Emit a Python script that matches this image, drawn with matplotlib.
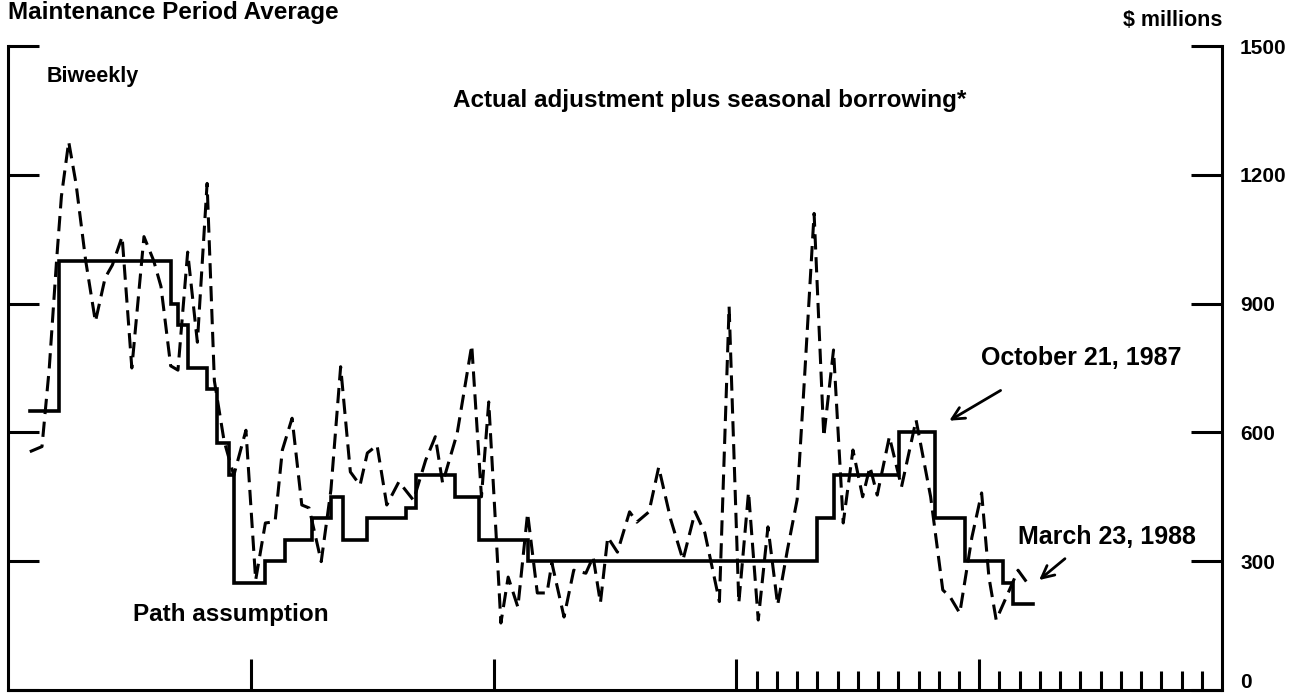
import numpy as np
import matplotlib
matplotlib.use("Agg")
import matplotlib.pyplot as plt
from matplotlib.ticker import FixedLocator, FixedFormatter, NullFormatter

plt.rcParams["font.family"] = ["Liberation Sans", "DejaVu Sans"]
plt.rcParams["font.weight"] = "bold"

# biweekly maintenance period averages, $ millions (x in decimal years)
actual_t = [1984.09, 1984.14, 1984.17, 1984.20, 1984.22, 1984.25, 1984.28, 1984.32,
            1984.36, 1984.40, 1984.43, 1984.47, 1984.51, 1984.56, 1984.60, 1984.63,
            1984.67, 1984.70, 1984.74, 1984.78, 1984.82, 1984.85, 1984.89, 1984.93,
            1984.98, 1985.02, 1985.06, 1985.10, 1985.13, 1985.17, 1985.21, 1985.24,
            1985.29, 1985.33, 1985.37, 1985.41, 1985.45, 1985.48, 1985.52, 1985.56,
            1985.61, 1985.67, 1985.72, 1985.76, 1985.79, 1985.85, 1985.91, 1985.95,
            1985.98, 1986.01, 1986.03, 1986.06, 1986.10, 1986.14, 1986.18, 1986.22,
            1986.24, 1986.29, 1986.33, 1986.38, 1986.41, 1986.44, 1986.47, 1986.51,
            1986.56, 1986.59, 1986.64, 1986.68, 1986.73, 1986.78, 1986.83, 1986.87,
            1986.93, 1986.97, 1987.01, 1987.05, 1987.09, 1987.13, 1987.17, 1987.21,
            1987.25, 1987.28, 1987.32, 1987.36, 1987.40, 1987.44, 1987.48, 1987.52,
            1987.55, 1987.58, 1987.63, 1987.68, 1987.74, 1987.80, 1987.85, 1987.88,
            1987.92, 1987.97, 1988.01, 1988.04, 1988.07, 1988.13, 1988.16, 1988.21]
actual_v = [555, 567, 750, 1000, 1150, 1277, 1180, 1000,
            858, 960, 990, 1056, 750, 1056, 1000, 940,
            755, 745, 1020, 810, 1180, 720, 580, 500,
            605, 256, 389, 392, 559, 633, 431, 424,
            299, 466, 753, 508, 477, 552, 570, 431,
            485, 442, 535, 590, 482, 598, 803, 450,
            671, 366, 156, 263, 193, 412, 226, 226,
            296, 170, 279, 272, 310, 203, 356, 321,
            415, 391, 415, 519, 396, 303, 415, 366,
            206, 893, 203, 461, 163, 380, 198, 326,
            443, 722, 1110, 590, 792, 389, 559, 450,
            520, 454, 590, 473, 629, 450, 233, 217,
            179, 356, 459, 263, 163, 240, 279, 240]

# path assumption, level starting at each date
path_t = [1984.09, 1984.21, 1984.67, 1984.70, 1984.74, 1984.82, 1984.86, 1984.91,
          1984.93, 1985.06, 1985.14, 1985.25, 1985.33, 1985.38, 1985.48, 1985.64,
          1985.68, 1985.84, 1985.94, 1986.14, 1987.33, 1987.40, 1987.67, 1987.82,
          1987.94, 1988.10, 1988.14, 1988.22]
path_v = [650, 1000, 900, 850, 750, 700, 575, 500,
          250, 300, 350, 400, 450, 350, 400, 425,
          500, 450, 350, 300, 400, 500, 600, 400,
          300, 250, 200, 200]

year_ticks = [1985, 1986, 1987, 1988]
month_ticks = [1987 + m / 12 for m in range(1, 24) if m != 12]
y_ticks = [0, 300, 600, 900, 1200, 1500]
y_labels = ["", "300", "600", "900", "1200", "1500"]

W, H = 1311, 696
fig = plt.figure(figsize=(W / 100, H / 100), dpi=100)
ax = fig.add_axes([8 / W, 1 - 690 / H, 1214 / W, 644 / H])

ax.step(path_t, path_v, where="post", color="black", lw=2.6, solid_joinstyle="miter")
ax.plot(actual_t, actual_v, color="black", lw=2.2, linestyle=(0, (5, 2.5)))

ax.set_xlim(1984, 1989)
ax.set_ylim(0, 1500)

for side in ["left", "right", "bottom"]:
    ax.spines[side].set_linewidth(2.2)
ax.spines["top"].set_visible(False)

ax.yaxis.set_major_locator(FixedLocator(y_ticks))
ax.yaxis.set_major_formatter(FixedFormatter(y_labels))
ax.yaxis.tick_right()
ax.tick_params(axis="y", which="major", left=True, right=True, labelleft=False,
               labelright=True, direction="in", length=22, width=2.2,
               pad=13, labelsize=15)
for t in ax.yaxis.get_major_ticks():
    if t.get_loc() == 1500:
        t.tick1line.set_markersize(29)
        t.tick2line.set_markersize(29)

# the zero label sits on the bottom edge; nudge it up so it stays in the picture
ax.annotate("0", xy=(1, 0), xycoords=ax.get_yaxis_transform(), xytext=(18, 7),
            textcoords="offset pixels", fontsize=15, va="center", ha="left")

ax.xaxis.set_major_locator(FixedLocator(year_ticks))
ax.xaxis.set_minor_locator(FixedLocator(month_ticks))
ax.xaxis.set_major_formatter(NullFormatter())
ax.tick_params(axis="x", which="major", direction="in", length=22, width=2.2)
ax.tick_params(axis="x", which="minor", direction="in", length=14, width=2.2)

ax.text(1984.16, 1430, "Biweekly", fontsize=15.5, va="center", ha="left")
ax.text(1985.833, 1374, "Actual adjustment plus seasonal borrowing*", fontsize=17.5,
        va="center", ha="left")
ax.text(1984.515, 177, "Path assumption", fontsize=17.5, va="center", ha="left")

ax.annotate("", xy=(1987.867, 624), xytext=(1988.098, 701),
            arrowprops=dict(arrowstyle="->", lw=2, mutation_scale=22, color="black"))
ax.text(1988.007, 773, "October 21, 1987", fontsize=18, va="center", ha="left")
ax.annotate("", xy=(1988.238, 252), xytext=(1988.362, 310),
            arrowprops=dict(arrowstyle="->", lw=2, mutation_scale=22, color="black"))
ax.text(1988.16, 356, "March 23, 1988", fontsize=18, va="center", ha="left")

fig.text(8 / W, 1 - 19 / H, "Maintenance Period Average", fontsize=17.5, va="baseline", ha="left")
fig.text(1222 / W, 1 - 20 / H, "$ millions", fontsize=15.5, va="center", ha="right")

fig.savefig("out.png", dpi=100)
